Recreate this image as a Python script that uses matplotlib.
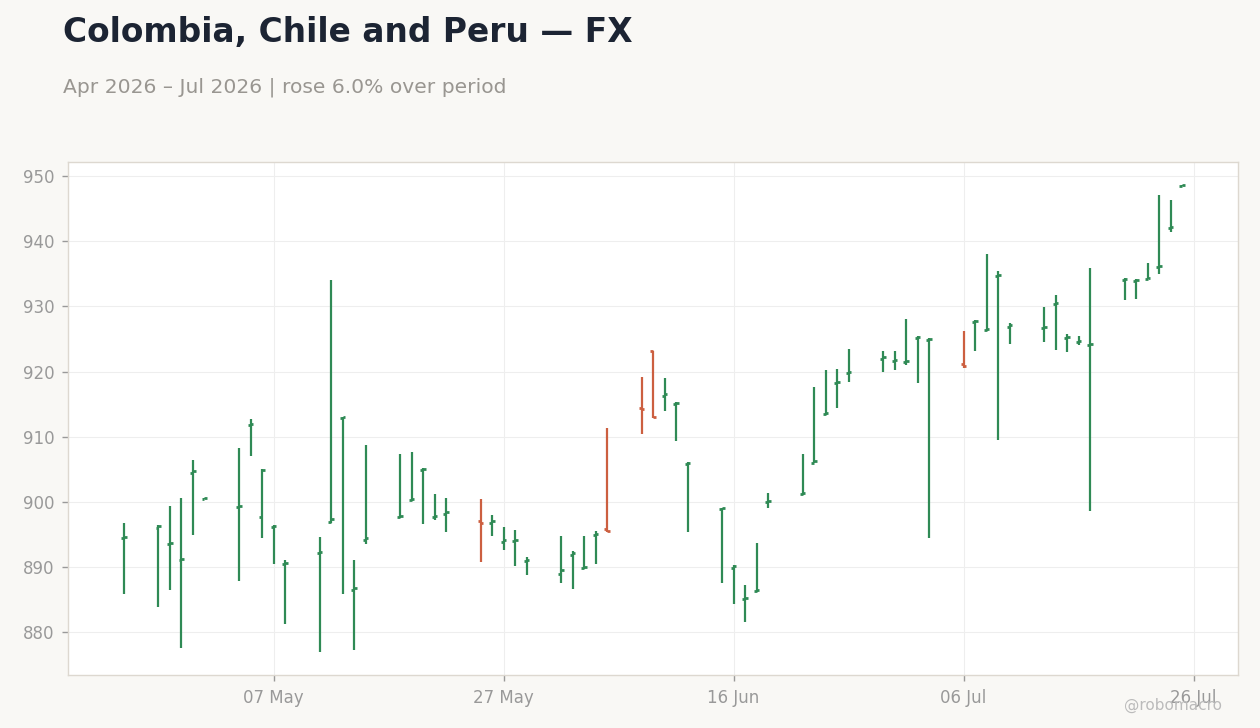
import matplotlib.pyplot as plt
import matplotlib.dates as mdates
import numpy as np
import pandas as pd

dates = pd.to_datetime([
    '2026-04-24', '2026-04-27', '2026-04-28', '2026-04-29', '2026-04-30', '2026-05-01',
    '2026-05-04', '2026-05-05', '2026-05-06', '2026-05-07', '2026-05-08',
    '2026-05-11', '2026-05-12', '2026-05-13', '2026-05-14', '2026-05-15',
    '2026-05-18', '2026-05-19', '2026-05-20', '2026-05-21', '2026-05-22',
    '2026-05-25', '2026-05-26', '2026-05-27', '2026-05-28', '2026-05-29',
    '2026-06-01', '2026-06-02', '2026-06-03', '2026-06-04', '2026-06-05',
    '2026-06-08', '2026-06-09', '2026-06-10', '2026-06-11', '2026-06-12',
    '2026-06-15', '2026-06-16', '2026-06-17', '2026-06-18', '2026-06-19',
    '2026-06-22', '2026-06-23', '2026-06-24', '2026-06-25', '2026-06-26',
    '2026-06-29', '2026-06-30', '2026-07-01', '2026-07-02', '2026-07-03',
    '2026-07-06', '2026-07-07', '2026-07-08', '2026-07-09', '2026-07-10',
    '2026-07-13', '2026-07-14', '2026-07-15', '2026-07-16', '2026-07-17',
    '2026-07-20', '2026-07-21', '2026-07-22', '2026-07-23', '2026-07-24',
    '2026-07-25',
])

opens = [894.4, 896.0, 893.5, 891.0, 904.5, 900.5,
         899.2, 911.8, 897.6, 896.1, 890.4,
         892.1, 896.9, 912.8, 886.5, 894.2,
         897.6, 900.3, 904.9, 897.6, 898.2,
         897.0, 896.8, 893.9, 894.0, 890.9,
         888.9, 891.9, 889.8, 894.9, 895.9,
         914.4, 923.1, 916.3, 915.0, 905.8,
         898.9, 889.9, 885.1, 886.3, 900.0,
         901.2, 906.0, 913.5, 918.2, 919.8,
         922.0, 921.6, 921.5, 925.1, 924.8,
         921.1, 927.6, 926.4, 934.6, 926.9,
         926.7, 930.4, 925.1, 924.5, 924.1,
         934.0, 933.9, 934.2, 936.0, 942.0,
         948.5]
closes = [894.6, 896.3, 893.7, 891.2, 904.7, 900.6,
          899.4, 912.0, 904.9, 896.3, 890.6,
          892.3, 897.3, 913.0, 886.7, 894.4,
          897.8, 900.5, 905.1, 897.8, 898.4,
          896.7, 897.0, 894.1, 894.2, 891.1,
          889.6, 892.2, 890.0, 895.1, 895.6,
          914.2, 913.1, 916.5, 915.2, 906.0,
          899.1, 890.1, 885.3, 886.5, 900.2,
          901.4, 906.2, 913.7, 918.4, 920.0,
          922.2, 921.8, 921.7, 925.3, 925.0,
          920.9, 927.8, 926.6, 934.8, 927.1,
          926.9, 930.6, 925.3, 924.7, 924.3,
          934.2, 934.1, 934.4, 936.2, 942.2,
          948.6]
highs = [896.7, 896.4, 899.4, 900.6, 906.5, 900.6,
         908.3, 912.7, 905.1, 896.4, 891.0,
         894.6, 934.0, 913.1, 891.0, 908.7,
         907.3, 907.6, 905.2, 901.2, 900.6,
         900.5, 898.0, 896.1, 895.7, 891.6,
         894.7, 892.5, 894.8, 895.6, 911.4,
         919.1, 923.2, 919.0, 915.3, 906.1,
         899.1, 890.3, 887.3, 893.7, 901.3,
         907.3, 917.6, 920.2, 920.4, 923.5,
         923.2, 923.2, 928.0, 925.4, 925.1,
         926.3, 927.9, 938.0, 935.4, 927.4,
         929.9, 931.7, 925.7, 925.4, 935.9,
         934.3, 934.2, 936.6, 947.1, 946.4,
         948.6]
lows = [885.9, 883.8, 886.4, 877.5, 894.9, 900.5,
        887.9, 907.0, 894.4, 890.4, 881.3,
        877.0, 896.8, 885.9, 877.2, 893.5,
        897.5, 900.2, 896.6, 897.2, 895.4,
        890.7, 894.7, 892.6, 890.1, 888.7,
        887.6, 886.6, 889.7, 890.4, 895.3,
        910.4, 912.9, 913.9, 909.3, 895.3,
        887.6, 884.3, 881.5, 886.2, 899.0,
        901.1, 906.0, 913.4, 914.4, 918.4,
        919.9, 920.3, 921.0, 918.3, 894.4,
        920.6, 923.2, 926.3, 909.5, 924.2,
        924.6, 923.3, 923.0, 924.1, 898.6,
        931.0, 931.2, 934.2, 935.0, 941.4,
        948.5]

tick_dates = pd.to_datetime(['2026-05-07', '2026-05-27', '2026-06-16', '2026-07-06', '2026-07-26'])

up_col = '#2f8a55'
down_col = '#cc5f40'

x = mdates.date2num(dates)
o = np.array(opens)
c = np.array(closes)
h = np.array(highs)
l = np.array(lows)
cols = [up_col if cc >= oo else down_col for oo, cc in zip(o, c)]

fig = plt.figure(figsize=(12.6, 7.28), dpi=100, facecolor='#f9f8f5')
ax = fig.add_axes([0.054, 0.0728, 0.9286, 0.7047])
ax.set_facecolor('white')

w = 0.24
ax.vlines(x, l, h, colors=cols, linewidth=1.6)
ax.hlines(o, x - w, x, colors=cols, linewidth=2.0)
ax.hlines(c, x, x + w, colors=cols, linewidth=2.0)

ax.set_xticks(mdates.date2num(tick_dates))
ax.xaxis.set_major_formatter(mdates.DateFormatter('%d %b'))
ax.set_yticks(np.arange(880, 951, 10))

ax.grid(True, color='#eeeeee', linewidth=0.8)
ax.set_axisbelow(True)
for s in ax.spines.values():
    s.set_color('#ddd8d0')
    s.set_linewidth(1)
ax.tick_params(colors='#999999', labelsize=12, length=4, width=1, pad=6)

fig.text(0.05, 0.9423, 'Colombia, Chile and Peru \u2014 FX', fontsize=23.7,
         fontweight='bold', color='#1c2433', va='baseline', ha='left')
fig.text(0.05, 0.8736, 'Apr 2026 \u2013 Jul 2026 | rose 6.0% over period', fontsize=14.6,
         color='#999691', va='baseline', ha='left')
fig.text(0.97, 0.0247, '@robomacro', fontsize=11, color='#bbbbbb',
         va='baseline', ha='right')

fig.savefig('out.png', dpi=100, facecolor=fig.get_facecolor())
